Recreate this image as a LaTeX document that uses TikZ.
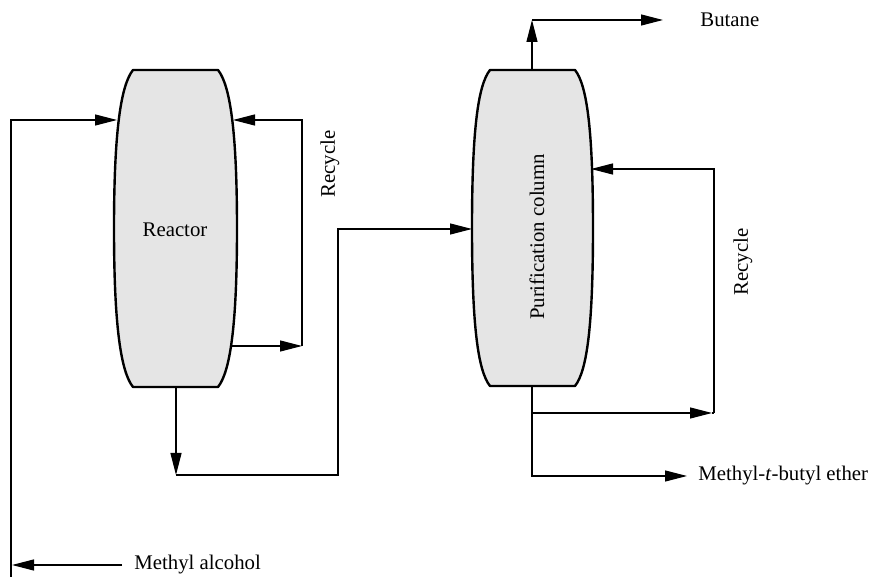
\documentclass[tikz,border=0pt]{standalone}
\usepackage{fontspec}
\setmainfont{Liberation Serif}
\usetikzlibrary{arrows.meta}
\definecolor{vesselgray}{HTML}{E5E5E5}
\begin{document}
\begin{tikzpicture}[x=0.5pt,y=-0.5pt,
  line/.style={line width=0.6pt},
  arr/.style={line width=0.6pt,-{Triangle[length=11pt,width=5.5pt]}},
  vessel/.style={line width=1.2pt,fill=vesselgray,line join=round},
  lbl/.style={font=\fontsize{10.4}{12}\selectfont,inner sep=0pt}]
\useasboundingbox (0,0) rectangle (875,577);

% vessels
\draw[vessel] (133,70) -- (218,70) .. controls (230,85) and (237,130) .. (237,228.5)
  .. controls (237,327) and (230,372) .. (218,387) -- (133,387)
  .. controls (121,372) and (114,327) .. (114,228.5)
  .. controls (114,130) and (121,85) .. (133,70) -- cycle;
\draw[vessel] (490,70) -- (575,70) .. controls (587,85) and (593,130) .. (593,228)
  .. controls (593,326) and (587,371) .. (575,386) -- (490,386)
  .. controls (478,371) and (472,326) .. (472,228)
  .. controls (472,130) and (478,85) .. (490,70) -- cycle;

% labels
\node[lbl] (reactorlbl) at (175,230) {Reactor};
\node[lbl,rotate=90] (columnlbl) at (537,237) {Purification column};
\node[lbl,rotate=90] (recycleA) at (330,164) {Recycle};
\node[lbl,rotate=90] (recycleB) at (743,262) {Recycle};
\node[lbl,anchor=west] (butane) at (700,20) {Butane};
\node[lbl,anchor=west] (mtbe) at (698,476) {Methyl-\textit{t}-butyl ether};
\node[lbl,anchor=west] (meoh) at (134,565) {Methyl alcohol};

% connection points
\coordinate (rIn) at (117,120);
\coordinate (rRecIn) at (233,120);
\coordinate (rRecOut) at (231,346);
\coordinate (rBot) at (176,387);
\coordinate (cIn) at (472,229);
\coordinate (cRecIn) at (591,169);
\coordinate (cTop) at (532,70);
\coordinate (cBot) at (532,386);
\coordinate (feedBot) at (11,577);
\coordinate (meohTip) at (12,565);
\coordinate (meohStart) at (122,565);
\coordinate (recA) at (302,346);
\coordinate (rOutTurn) at (176,475);
\coordinate (riseX) at (338,475);
\coordinate (bTurn) at (532,20);
\coordinate (bEnd) at (663,20);
\coordinate (mtbeEnd) at (687,476);
\coordinate (cSplit) at (532,413);
\coordinate (recB) at (712,413);

% connectors
\draw[arr] (meohStart) -- (meohTip);
\draw[arr] (feedBot) |- (rIn);
\draw[arr] (rRecOut) -- (recA);
\draw[arr] (recA) |- (rRecIn);
\draw[arr] (rBot) -- (rOutTurn);
\draw[arr] (rOutTurn) -- (riseX) |- (cIn);
\draw[arr] (cTop) -- (bTurn);
\draw[arr] (bTurn) -- (bEnd);
\draw[arr] (cBot) |- (mtbeEnd);
\draw[arr] (cSplit) -- (recB);
\draw[line] (recB) -- ([xshift=1pt]recB);
\draw[arr] ([xshift=1pt]recB) |- (cRecIn);
\end{tikzpicture}
\end{document}
